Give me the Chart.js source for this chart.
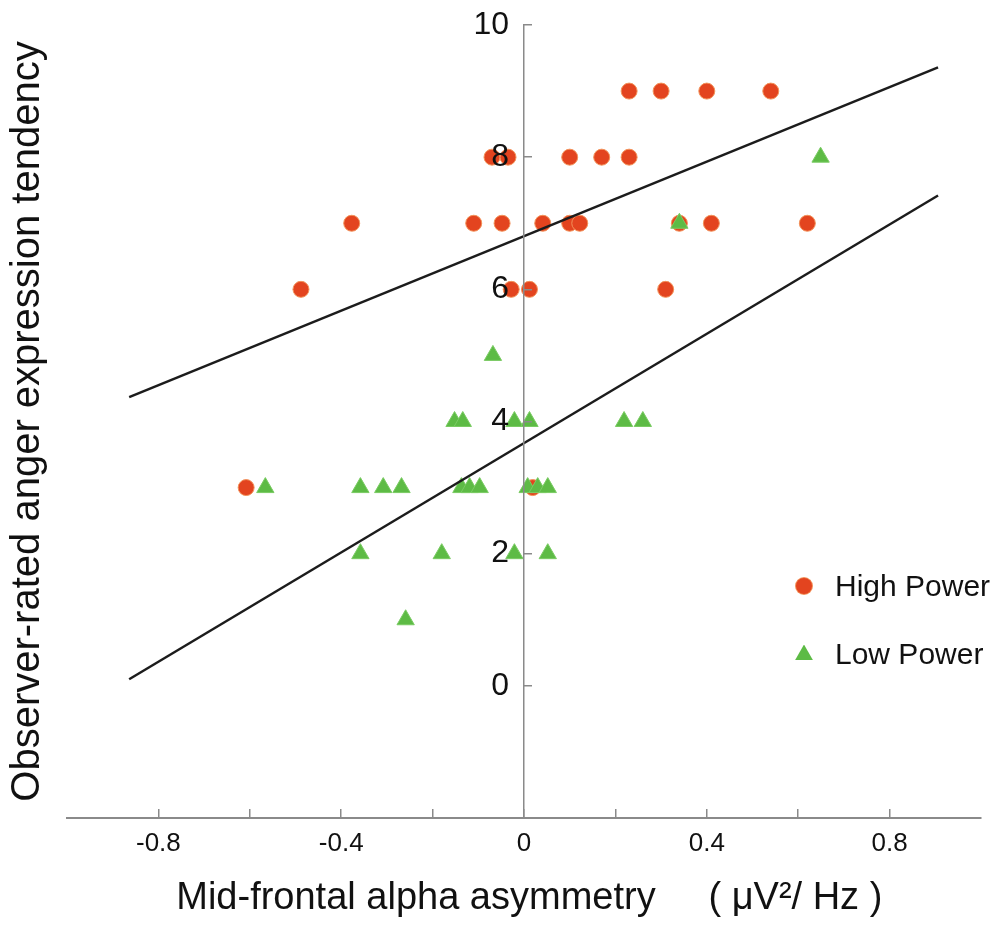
<!DOCTYPE html>
<html>
<head>
<meta charset="utf-8">
<script src="https://cdn.jsdelivr.net/npm/chart.js@4.4.1/dist/chart.umd.min.js"></script>
<style>
  html, body { margin: 0; padding: 0; background: #ffffff; }
  #wrap { position: relative; width: 1000px; height: 929px; }
  .lgtext { position: absolute; font-family: "Liberation Sans", Arial, sans-serif; font-size: 30px; line-height: 30px; height: 30px; color: #111; white-space: nowrap; }
  .lgcircle { position: absolute; width: 16px; height: 16px; border-radius: 50%; background: #E3441F; box-shadow: 0 0 0 1px #F2925A; }
  .lgtri { position: absolute; width: 18px; height: 15.6px; background: #5DBB45; clip-path: polygon(50% 0, 100% 100%, 0 100%); }
</style>
</head>
<body>
<div id="wrap">
  <canvas id="chart"></canvas>
  <div class="lgcircle" style="left:796px; top:578px;"></div>
  <div class="lgtext" style="left:835px; top:571px;">High Power</div>
  <div class="lgtri" style="left:795px; top:644.6px;"></div>
  <div class="lgtext" style="left:835px; top:639px;">Low Power</div>
</div>
<script>
// ---- tick labels ----
const xTickValues = [-0.8, -0.6, -0.4, -0.2, 0, 0.2, 0.4, 0.6, 0.8];
const xTickLabels = ['-0.8', '', '-0.4', '', '0', '', '0.4', '', '0.8'];
const yTickValues = [0, 2, 4, 6, 8, 10];
const yTickLabels = ['0', '2', '4', '6', '8', '10'];

// ---- series: High Power (circles) ----
const highPowerX = [0.23, 0.30, 0.40, 0.54,
                    -0.07, -0.035, 0.10, 0.17, 0.23,
                    -0.377, -0.11, -0.048, 0.041, 0.10, 0.122, 0.34, 0.41, 0.62,
                    -0.488, -0.028, 0.012, 0.31,
                    -0.608, 0.019];
const highPowerY = [9, 9, 9, 9,
                    8, 8, 8, 8, 8,
                    7, 7, 7, 7, 7, 7, 7, 7, 7,
                    6, 6, 6, 6,
                    3, 3];

// ---- series: Low Power (triangles) ----
const lowPowerX = [0.649,
                   0.34,
                   -0.068,
                   -0.152, -0.134, -0.021, 0.012, 0.219, 0.26,
                   -0.566, -0.358, -0.308, -0.268, -0.137, -0.119, -0.097, 0.008, 0.03, 0.052,
                   -0.358, -0.18, -0.021, 0.052,
                   -0.259];
const lowPowerY = [8,
                   7,
                   5,
                   4, 4, 4, 4, 4, 4,
                   3, 3, 3, 3, 3, 3, 3, 3, 3, 3,
                   2, 2, 2, 2,
                   1];

// ---- regression lines (end points) ----
const fitHighX = [-0.864, 0.906];
const fitHighY = [4.37, 9.36];
const fitLowX = [-0.864, 0.906];
const fitLowY = [0.10, 7.42];

const toPts = (xs, ys) => xs.map((x, i) => ({ x: x, y: ys[i] }));

const FONT = '"Liberation Sans", Arial, sans-serif';
const AXIS_GRAY = '#8a8a8a';

new Chart(document.getElementById('chart'), {
  type: 'scatter',
  data: {
    datasets: [
      {
        label: 'High Power fit',
        data: toPts(fitHighX, fitHighY),
        showLine: true,
        borderColor: '#1c1c1c',
        borderWidth: 2.5,
        pointRadius: 0,
        fill: false,
        order: 0,
        yAxisID: 'y'
      },
      {
        label: 'Low Power fit',
        data: toPts(fitLowX, fitLowY),
        showLine: true,
        borderColor: '#1c1c1c',
        borderWidth: 2.5,
        pointRadius: 0,
        fill: false,
        order: 0,
        yAxisID: 'y'
      },
      {
        label: 'Low Power',
        data: toPts(lowPowerX, lowPowerY),
        pointStyle: 'triangle',
        pointRadius: 10,
        backgroundColor: '#5DBB45',
        borderColor: '#7ACB63',
        borderWidth: 1,
        order: 1,
        yAxisID: 'y'
      },
      {
        label: 'High Power',
        data: toPts(highPowerX, highPowerY),
        pointStyle: 'circle',
        pointRadius: 8,
        backgroundColor: '#E3441F',
        borderColor: '#F2925A',
        borderWidth: 1,
        order: 2,
        yAxisID: 'y'
      }
    ]
  },
  options: {
    responsive: true,
    maintainAspectRatio: false,
    animation: false,
    layout: { padding: { top: 25, right: 19, bottom: 0, left: 0 } },
    plugins: {
      legend: { display: false },
      tooltip: { enabled: false }
    },
    scales: {
      x: {
        type: 'linear',
        position: 'bottom',
        min: -1,
        max: 1,
        afterBuildTicks: (s) => { s.ticks = xTickValues.map(v => ({ value: v })); },
        ticks: {
          callback: (v, i) => xTickLabels[i],
          autoSkip: false,
          maxRotation: 0,
          padding: 19.4,
          color: '#111',
          font: { family: FONT, size: 26 }
        },
        grid: {
          drawOnChartArea: false,
          drawTicks: true,
          tickLength: -9,
          color: AXIS_GRAY,
          lineWidth: 1.5
        },
        border: { display: true, color: AXIS_GRAY, width: 2 },
        title: {
          display: true,
          text: ' Mid-frontal alpha asymmetry     ( μV²/ Hz )',
          color: '#111',
          font: { family: FONT, size: 38, weight: 'normal' },
          padding: { top: -2.8, bottom: 7.2 }
        }
      },
      y: {
        type: 'linear',
        position: 'center',
        z: 1,
        min: -2,
        max: 10,
        afterBuildTicks: (s) => { s.ticks = yTickValues.map(v => ({ value: v })); },
        ticks: {
          callback: (v, i) => yTickLabels[i],
          autoSkip: false,
          padding: 24,
          color: '#111',
          z: 2,
          font: { family: FONT, size: 32, lineHeight: 0.05 }
        },
        grid: {
          drawOnChartArea: false,
          drawTicks: true,
          tickLength: -9,
          color: AXIS_GRAY,
          lineWidth: 1.5,
          z: 1
        },
        border: { display: true, color: AXIS_GRAY, width: 1.5, z: 1 }
      },
      y2: {
        type: 'linear',
        position: 'left',
        grid: { display: false, drawTicks: false },
        border: { display: false },
        ticks: { display: false },
        title: {
          display: true,
          text: 'Observer-rated anger expression tendency',
          color: '#111',
          font: { family: FONT, size: 40, weight: 'normal' },
          padding: { top: 4, bottom: 15 }
        }
      }
    }
  }
});
</script>
</body>
</html>
